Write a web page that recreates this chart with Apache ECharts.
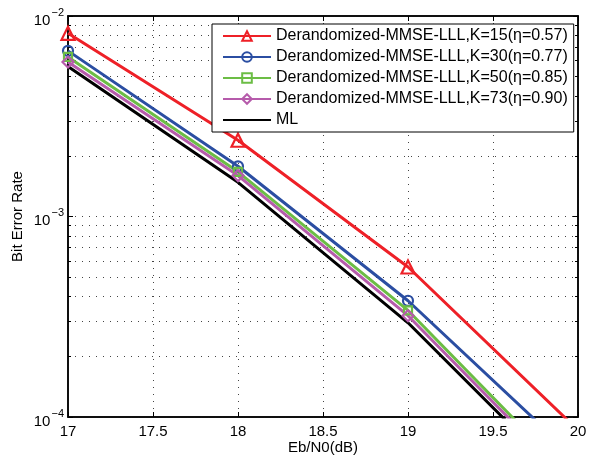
<!DOCTYPE html>
<html>
<head>
<meta charset="utf-8">
<script src="https://cdn.jsdelivr.net/npm/echarts@6/dist/echarts.min.js"></script>
<style>
  html, body { margin: 0; padding: 0; background: #fff; }
  #chart { width: 590px; height: 455px; }
</style>
</head>
<body>
<div id="chart"></div>
<script>
    // Eb/N0 (dB)
    var snr = [17, 18, 19, 20];
    // bit error rate for each curve
    var berK15 = [8.2e-3, 2.40e-3, 5.6e-4, 8.6e-5];
    var berK30 = [6.7e-3, 1.78e-3, 3.8e-4, 6.1e-5];
    var berK50 = [6.25e-3, 1.67e-3, 3.4e-4, 4.6e-5];
    var berK73 = [5.9e-3, 1.60e-3, 3.2e-4, 4.4e-5];
    var berML = [5.6e-3, 1.48e-3, 2.95e-4, 4.2e-5];
    var names = [
        'Derandomized-MMSE-LLL,K=15(η=0.57)',
        'Derandomized-MMSE-LLL,K=30(η=0.77)',
        'Derandomized-MMSE-LLL,K=50(η=0.85)',
        'Derandomized-MMSE-LLL,K=73(η=0.90)',
        'ML'
    ];
    var decades = [1e-4, 1e-3];

    var font = 'Liberation Sans, Arial, sans-serif';

    // minor log grid positions (2..9 in each decade), as exponents
    var minorExp = [];
    for (var d = 0; d < decades.length; d++) {
        for (var m = 2; m <= 9; m++) {
            minorExp.push(Math.log10(decades[d] * m));
        }
    }

    function pairs(ys) {
        var arr = [];
        for (var i = 0; i < snr.length; i++) {
            arr.push([snr[i], ys[i]]);
        }
        return arr;
    }

    function makeSeries(name, ys, color, symbol, size) {
        return {
            name: name,
            type: 'line',
            xAxisIndex: 0,
            yAxisIndex: 0,
            data: pairs(ys),
            symbol: symbol,
            symbolSize: size,
            showSymbol: symbol !== 'none',
            clip: true,
            lineStyle: { width: 3, color: color },
            itemStyle: { color: 'rgba(255,255,255,0)', borderColor: color, borderWidth: 2.2 },
            emphasis: { disabled: true },
            z: 3
        };
    }

    function dotted() {
        return { color: '#444', width: 1, type: [1, 6], opacity: 1 };
    }

    // exponent axis used only for the minor log ticks / grid
    function minorAxis(pos, grid) {
        return {
            type: 'value',
            position: pos,
            min: -4,
            max: -2,
            axisLine: { show: false },
            axisTick: { show: true, inside: true, length: 3, customValues: minorExp, lineStyle: { color: '#000' } },
            axisLabel: { show: false },
            splitLine: { show: grid, lineStyle: dotted() }
        };
    }

    var legendData = names.map(function (n) {
        if (n === 'ML') {
            return { name: n, itemStyle: { borderWidth: 0, color: 'rgba(0,0,0,0)' } };
        }
        return { name: n };
    });

    var mlSeries = makeSeries(names[4], berML, '#000000', 'circle', 0);
    mlSeries.showSymbol = false;

    var option = {
        animation: false,
        backgroundColor: '#fff',
        textStyle: { fontFamily: font },
        grid: {
            left: 68, right: 12, top: 16, bottom: 38,
            outerBoundsMode: 'none',
            containLabel: false,
            show: true, borderColor: '#000', borderWidth: 1.5, backgroundColor: '#fff'
        },
        legend: {
            orient: 'vertical',
            left: 212,
            top: 24,
            padding: [4, 6, 4, 10],
            backgroundColor: '#fff',
            borderColor: '#000',
            borderWidth: 1,
            itemWidth: 48,
            itemHeight: 12,
            itemGap: 5,
            textStyle: { fontSize: 16, color: '#000', fontFamily: font },
            data: legendData
        },
        xAxis: [{
            type: 'value',
            min: 17,
            max: 20,
            interval: 0.5,
            name: 'Eb/N0(dB)',
            nameLocation: 'middle',
            nameGap: 23,
            nameMoveOverlap: false,
            nameTextStyle: { fontSize: 15, color: '#000', fontFamily: font },
            axisLine: { lineStyle: { color: '#000', width: 1.5 } },
            axisTick: { inside: true, length: 5, lineStyle: { color: '#000' } },
            axisLabel: { fontSize: 15, color: '#000', margin: 7, fontFamily: font },
            splitLine: { show: true, lineStyle: dotted() }
        }, {
            type: 'value',
            position: 'top',
            min: 17,
            max: 20,
            interval: 0.5,
            axisLine: { lineStyle: { color: '#000', width: 1.5 } },
            axisTick: { inside: true, length: 5, lineStyle: { color: '#000' } },
            axisLabel: { show: false },
            splitLine: { show: false }
        }],
        yAxis: [{
            type: 'log',
            min: 1e-4,
            max: 1e-2,
            logBase: 10,
            name: 'Bit Error Rate',
            nameLocation: 'middle',
            nameGap: 43,
            nameMoveOverlap: false,
            nameTextStyle: { fontSize: 15, color: '#000', fontFamily: font },
            axisLine: { lineStyle: { color: '#000', width: 1.5 } },
            axisTick: { inside: true, length: 5, lineStyle: { color: '#000' } },
            axisLabel: {
                margin: 4,
                formatter: function (v) {
                    var e = Math.round(Math.log10(v));
                    return '{a|10}{b|−' + Math.abs(e) + '}';
                },
                rich: {
                    a: { fontSize: 15, color: '#000', fontFamily: font, padding: [9, 0, 0, 0] },
                    b: { fontSize: 11, color: '#000', fontFamily: font, padding: [0, 0, 7, 1] }
                }
            },
            splitLine: { show: true, lineStyle: dotted() }
        }, {
            type: 'log',
            min: 1e-4,
            max: 1e-2,
            position: 'right',
            axisLine: { lineStyle: { color: '#000', width: 1.5 } },
            axisTick: { inside: true, length: 5, lineStyle: { color: '#000' } },
            axisLabel: { show: false },
            splitLine: { show: false }
        },
            minorAxis('left', true),
            minorAxis('right', false)
        ],
        series: [
            makeSeries(names[0], berK15, '#ee2027', 'triangle', 13),
            makeSeries(names[1], berK30, '#2b4ea2', 'circle', 10),
            makeSeries(names[2], berK50, '#6cbd45', 'rect', 8),
            makeSeries(names[3], berK73, '#b65bab', 'diamond', 11),
            mlSeries
        ]
    };

    var myChart = echarts.init(document.getElementById('chart'));
    myChart.setOption(option);
</script>
</body>
</html>
